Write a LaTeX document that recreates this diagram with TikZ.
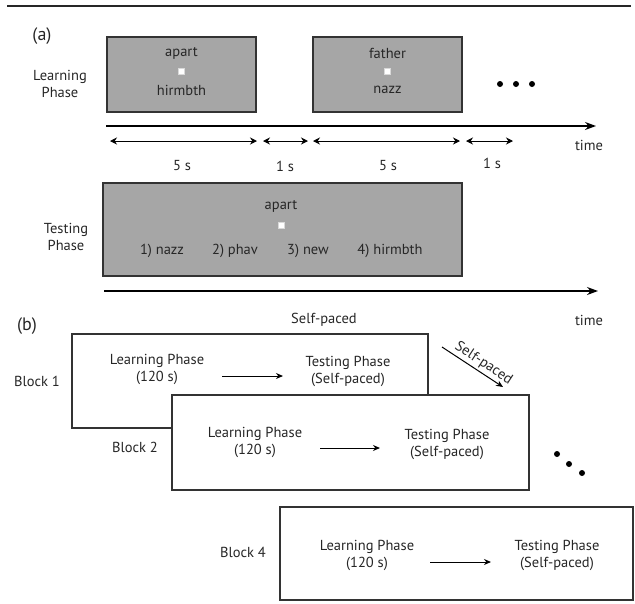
\documentclass[tikz,border=0pt]{standalone}
\usepackage{fontspec}
\setmainfont{PT Sans}
\usepackage{xcolor}
\usepackage{tikz}
\usetikzlibrary{arrows.meta, positioning}

\begin{document}
\begin{tikzpicture}[
            x=1pt, y=-1pt,
            every node/.style={font=\fontsize{14.5}{17}\selectfont, text=black!85, align=center, inner sep=1pt},
            panel/.style={font=\fontsize{18}{20}\selectfont},
            trial/.style={draw=black!80, line width=1.2pt, fill=black!35, inner sep=0pt},
            block/.style={draw=black!80, line width=1.2pt, fill=white, inner sep=0pt},
            fix/.style={draw=black!15, fill=white, minimum size=6pt, inner sep=0pt},
            span/.style={{Stealth[length=7pt, width=7pt]}-{Stealth[length=7pt, width=7pt]}, line width=1pt},
            axis/.style={-{Stealth[length=11pt, width=8pt]}, line width=1.2pt},
            step arrow/.style={-{Stealth[length=7pt, width=6pt]}, line width=1pt},
            dot/.style={circle, fill, inner sep=0pt, minimum size=6pt}
        ]
        \useasboundingbox (0,0) rectangle (635,603);

        % Top rule
        \coordinate (topA) at (7,6);
        \coordinate (topB) at (631,6);
        \draw[line width=2pt, black!85] (topA) -- (topB);

        % (a) Learning phase
        \node[panel] (a) at (42,36) {(a)};
        \node (learnlbl) at (60,84) {Learning\\Phase};

        \node[trial, minimum width=149pt, minimum height=75pt] (trial1) at (181.5,74.5) {};
        \node (cue1) at (181.5,53) {apart};
        \node[fix] (fix1) at (181.5,71) {};
        \node (tgt1) at (181.5,90) {hirmbth};

        \node[trial, minimum width=149pt, minimum height=75pt] (trial2) at (387.5,74.5) {};
        \node (cue2) at (387.5,53) {father};
        \node[fix] (fix2) at (387.5,71) {};
        \node (tgt2) at (387.5,90) {nazz};

        \node[dot] (d1) at (500,84) {};
        \node[dot] (d2) at (516,84) {};
        \node[dot] (d3) at (532,84) {};

        % Time axis and durations
        \coordinate (axA0) at (106,126);
        \coordinate (axA1) at (596,126);
        \draw[axis] (axA0) -- (axA1);
        \node (timeA) at (589,145) {time};

        \coordinate (s1) at (110,141);
        \coordinate (e1) at (257,141);
        \coordinate (s2) at (263,141);
        \coordinate (e2) at (308,141);
        \coordinate (s3) at (313,141);
        \coordinate (e3) at (460,141);
        \coordinate (s4) at (466,141);
        \coordinate (e4) at (513,141);
        \draw[span] (s1) -- (e1);
        \draw[span] (s2) -- (e2);
        \draw[span] (s3) -- (e3);
        \draw[span] (s4) -- (e4);
        \node (t1) at (182,166) {5 s};
        \node (t2) at (285,166) {1 s};
        \node (t3) at (388,166) {5 s};
        \node (t4) at (492,163) {1 s};

        % (a) Testing phase
        \node (testlbl) at (66,237) {Testing\\Phase};
        \node[trial, minimum width=359pt, minimum height=93pt] (test) at (282.5,229.5) {};
        \node (cue3) at (281,206) {apart};
        \node[fix] (fix3) at (281,225) {};
        \node (opt1) at (162,251) {1) nazz};
        \node (opt2) at (235,251) {2) phav};
        \node (opt3) at (308,251) {3) new};
        \node (opt4) at (390,251) {4) hirmbth};

        \coordinate (axB0) at (104,291);
        \coordinate (axB1) at (598,291);
        \draw[axis] (axB0) -- (axB1);
        \node (selfB) at (324,320) {Self-paced};
        \node (timeB) at (589,320) {time};

        % (b) Blocks
        \node[panel] (b) at (27,326) {(b)};

        \node[block, minimum width=356pt, minimum height=94pt] (blk1) at (250,381) {};
        \node (blk1lbl) at (37,381) {Block 1};
        \node (learn1) at (157,369) {Learning Phase\\(120 s)};
        \node (test1) at (348,371) {Testing Phase\\(Self-paced)};
        \coordinate (a1s) at (222,376);
        \coordinate (a1e) at (283,376);
        \draw[step arrow] (a1s) -- (a1e);

        \coordinate (sp0) at (442,347);
        \coordinate (sp1) at (503,387);
        \draw[step arrow] (sp0) -- node[above, sloped, pos=0.6, inner sep=2pt] {Self-paced} (sp1);

        \node[block, minimum width=357pt, minimum height=95pt] (blk2) at (350.5,442.5) {};
        \node (blk2lbl) at (135,447) {Block 2};
        \node (learn2) at (255,442) {Learning Phase\\(120 s)};
        \node (test2) at (447,444) {Testing Phase\\(Self-paced)};
        \coordinate (a2s) at (320,448);
        \coordinate (a2e) at (380,448);
        \draw[step arrow] (a2s) -- (a2e);

        \node[dot] (d4) at (557,454) {};
        \node[dot] (d5) at (569,464) {};
        \node[dot] (d6) at (582,473) {};

        \node[block, minimum width=353pt, minimum height=93pt] (blk4) at (456.5,553.5) {};
        \node (blk4lbl) at (243,552) {Block 4};
        \node (learn4) at (367,555) {Learning Phase\\(120 s)};
        \node (test4) at (557,555) {Testing Phase\\(Self-paced)};
        \coordinate (a4s) at (430,562);
        \coordinate (a4e) at (491,562);
        \draw[step arrow] (a4s) -- (a4e);

    \end{tikzpicture}
\end{document}
